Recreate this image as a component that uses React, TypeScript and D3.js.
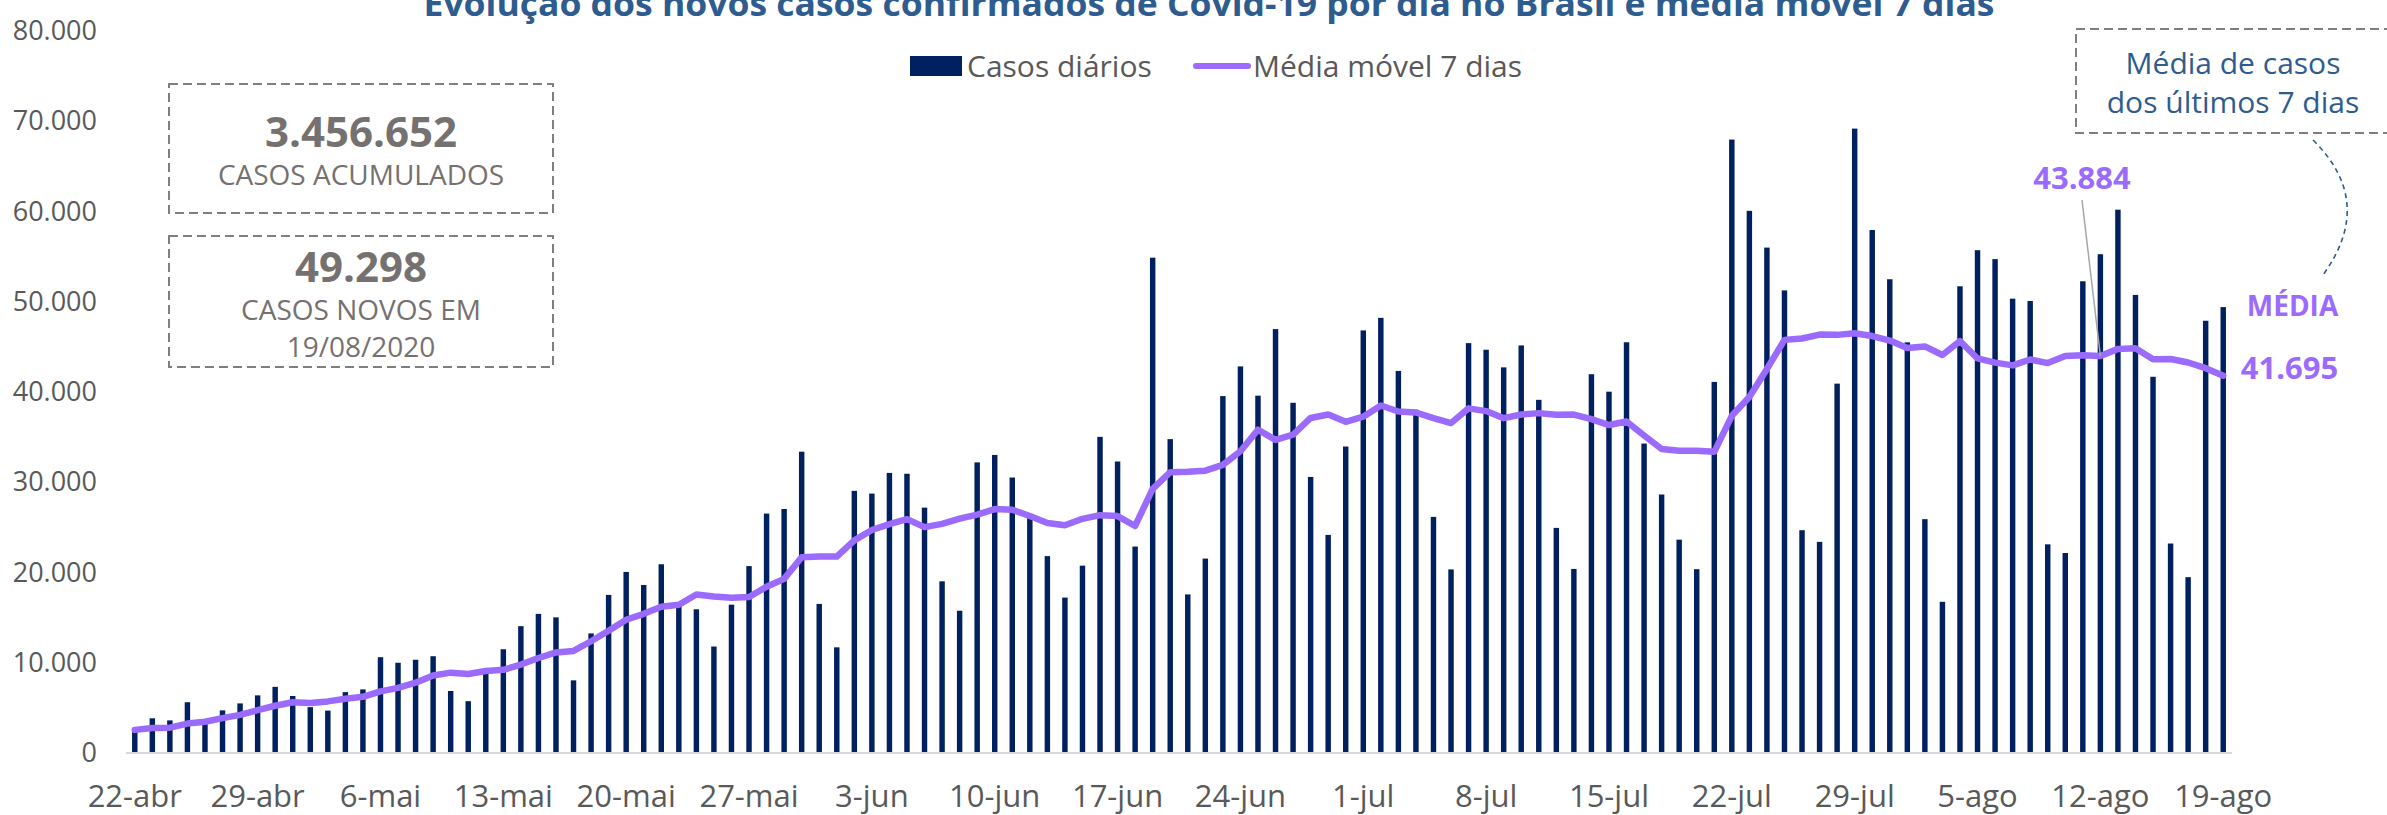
import React from 'react';
import * as d3 from 'd3';

// Casos novos por dia, 22-abr a 19-ago (2020)
const casosDiarios = [
  2678, 3735, 3503, 5514, 3379, 4613, 5385, 6276, 7218,
  6209, 4970, 4588, 6633, 6935, 10503, 9888, 10222, 10611, 6760, 5632, 9258, 11385, 13944, 15305, 14919, 7938,
  13140, 17408, 19951, 18508, 20803, 16508, 15813, 11687, 16324, 20599, 26417, 26928, 33274, 16409,
  11598, 28936, 28633, 30925, 30830, 27075, 18912, 15654, 32091, 32913, 30412, 25982, 21704, 17110, 20647,
  34918, 32188, 22765, 54771, 34666, 17459, 21432, 39436, 42725, 39483, 46860, 38693, 30476, 24052, 33846,
  46712, 48105, 42223, 37923, 26051, 20229, 45305, 44571, 42619, 45048, 39023, 24831, 20286, 41857, 39924,
  45403, 34177, 28532, 23529, 20257, 41008, 67860, 59961, 55891, 51147, 24578, 23284, 40816, 69074, 57837, 52383,
  45392, 25800, 16641, 51603, 55600, 54615, 50230, 49970, 23010, 22048, 52160, 55155, 60091, 50644, 41576,
  23101, 19373, 47784, 49298,
];

// Média móvel 7 dias
const mediaMovel = [
  2450, 2650, 2700, 3150, 3350, 3750, 4115, 4629, 5127,
  5513, 5436, 5608, 5897, 6118, 6722, 7104, 7677, 8483, 8793, 8650, 8982, 9108, 9687, 10414, 11029, 11197,
  12270, 13434, 14658, 15310, 16095, 16322, 17447, 17240, 17085, 17177, 18307, 19182, 21577, 21663,
  21650, 23452, 24599, 25243, 25801, 24915, 25273, 25852, 26303, 26914, 26841, 26148, 25381, 25124, 25837,
  26241, 26137, 25045, 29158, 31009, 31059, 31171, 31817, 33322, 35710, 34580, 35155, 37015, 37389, 36591,
  37160, 38392, 37730, 37620, 36987, 36441, 38078, 37772, 36989, 37392, 37549, 37375, 37383, 36891, 36227,
  36625, 35072, 33573, 33387, 33383, 33261, 37252, 39332, 42434, 45665, 45815, 46247, 46220, 46393, 46090, 45588,
  44766, 44941, 43992, 45533, 43608, 43148, 42840, 43494, 43096, 43868, 43948, 43884, 44666, 44725, 43526,
  43539, 43157, 42532, 41695,
];

const tickLabels = [
  '22-abr', '29-abr', '6-mai', '13-mai', '20-mai', '27-mai', '3-jun', '10-jun', '17-jun',
  '24-jun', '1-jul', '8-jul', '15-jul', '22-jul', '29-jul', '5-ago', '12-ago', '19-ago',
];
const yTicks = [0, 10000, 20000, 30000, 40000, 50000, 60000, 70000, 80000];

const destaqueDia = 112; // 12-ago
const totalAcumulado = '3.456.652';
const novosHoje = '49.298';

const W = 2387;
const H = 815;
const NAVY = '#002060';
const PURPLE = '#9b6bff';
const GRAY_TXT = '#595959';
const BOX_TXT = '#767171';
const BLUE = '#2e5c8f';
const FONT = '"Open Sans", "Noto Sans", sans-serif';

const ptBR = d3.formatLocale({ decimal: ',', thousands: '.', grouping: [3], currency: ['R$', ''] });
const fmt = ptBR.format(',');

const App: React.FC = () => {
  const idx = d3.range(casosDiarios.length);
  const x = d3.scaleBand<number>()
    .domain(idx)
    .range([126, 2232])
    .paddingInner(0.69)
    .paddingOuter(0.345);
  const y = d3.scaleLinear().domain([0, 80000]).range([752, 30]);
  const cx = (i: number) => (x(i) ?? 0) + x.bandwidth() / 2;

  const line = d3.line<number>()
    .x((_, i) => cx(i))
    .y(d => y(d))
    .curve(d3.curveLinear);

  const last = casosDiarios.length - 1;
  const lastX = cx(last);
  const lastY = y(mediaMovel[last]);
  const hx = cx(destaqueDia);
  const hy = y(mediaMovel[destaqueDia]);

  return (
    <>
      <style>{'body{margin:0;background:#fff}'}</style>
      <svg width={W} height={H} viewBox={`0 0 ${W} ${H}`} style={{ display: 'block', fontFamily: FONT }}>
        <rect width={W} height={H} fill="#fff" />

        {/* titulo (cortado no topo, como no original) */}
        <text x={1209} y={16} textAnchor="middle" fontSize={34} fontWeight={700} fill={BLUE}
          textLength={1571} lengthAdjust="spacingAndGlyphs">
          Evolução dos novos casos confirmados de Covid-19 por dia no Brasil e média móvel 7 dias
        </text>

        {/* legenda */}
        <rect x={910} y={56} width={52} height={20} fill={NAVY} />
        <text x={967} y={77} fontSize={30} fill={GRAY_TXT}>Casos diários</text>
        <line x1={1196} y1={66} x2={1248} y2={66} stroke={PURPLE} strokeWidth={6} strokeLinecap="round" />
        <text x={1253} y={77} fontSize={30} fill={GRAY_TXT}>Média móvel 7 dias</text>

        {/* eixo y */}
        {yTicks.map(t => (
          <text key={t} x={97} y={y(t) + 10} textAnchor="end" fontSize={27} fill={GRAY_TXT}>{fmt(t)}</text>
        ))}

        {/* barras */}
        {casosDiarios.map((d, i) => (
          <rect key={i} x={x(i)} y={y(d)} width={x.bandwidth()} height={y(0) - y(d)} fill={NAVY} />
        ))}

        {/* linha base */}
        <line x1={126} x2={2232} y1={y(0) + 1} y2={y(0) + 1} stroke="#d9d9d9" strokeWidth={2} />

        {/* eixo x */}
        {tickLabels.map((t, k) => (
          <text key={t} x={cx(k * 7)} y={807} textAnchor="middle" fontSize={31} fill={GRAY_TXT}>{t}</text>
        ))}

        {/* media movel */}
        <path d={line(mediaMovel) ?? ''} fill="none" stroke={PURPLE} strokeWidth={6.5}
          strokeLinejoin="round" strokeLinecap="round" />

        {/* caixas à esquerda */}
        <rect x={169} y={84} width={384} height={129} fill="none" stroke="#7f7f7f" strokeWidth={2} strokeDasharray="9 5" />
        <text x={361} y={147} textAnchor="middle" fontSize={42} fontWeight={700} fill={BOX_TXT}>{totalAcumulado}</text>
        <text x={361} y={185} textAnchor="middle" fontSize={28} fill={BOX_TXT}>CASOS ACUMULADOS</text>

        <rect x={169} y={236} width={384} height={131} fill="none" stroke="#7f7f7f" strokeWidth={2} strokeDasharray="9 5" />
        <text x={361} y={282} textAnchor="middle" fontSize={42} fontWeight={700} fill={BOX_TXT}>{novosHoje}</text>
        <text x={361} y={320} textAnchor="middle" fontSize={28} fill={BOX_TXT}>CASOS NOVOS EM</text>
        <text x={361} y={357} textAnchor="middle" fontSize={28} fill={BOX_TXT}>19/08/2020</text>

        {/* caixa à direita */}
        <rect x={2076} y={29} width={330} height={104} fill="none" stroke="#7f7f7f" strokeWidth={2} strokeDasharray="9 5" />
        <text x={2233} y={74} textAnchor="middle" fontSize={30} fill={BLUE}>Média de casos</text>
        <text x={2233} y={113} textAnchor="middle" fontSize={30} fill={BLUE}>dos últimos 7 dias</text>
        <path d="M2313,140 Q2376,202 2323,275" fill="none" stroke={BLUE} strokeWidth={1.6} strokeDasharray="5 4" />

        {/* rótulos da média */}
        <line x1={2082} y1={200} x2={hx} y2={hy} stroke="#a6a6a6" strokeWidth={1.5} />
        <text x={2082} y={189} textAnchor="middle" fontSize={31} fontWeight={700} fill={PURPLE}>
          {fmt(mediaMovel[destaqueDia])}
        </text>
        <text x={lastX + 115} y={316} textAnchor="end" fontSize={28} fontWeight={700} fill={PURPLE}>MÉDIA</text>
        <text x={lastX + 115} y={lastY + 3} textAnchor="end" fontSize={31} fontWeight={700} fill={PURPLE}>
          {fmt(mediaMovel[last])}
        </text>
      </svg>
    </>
  );
};

export default App;
